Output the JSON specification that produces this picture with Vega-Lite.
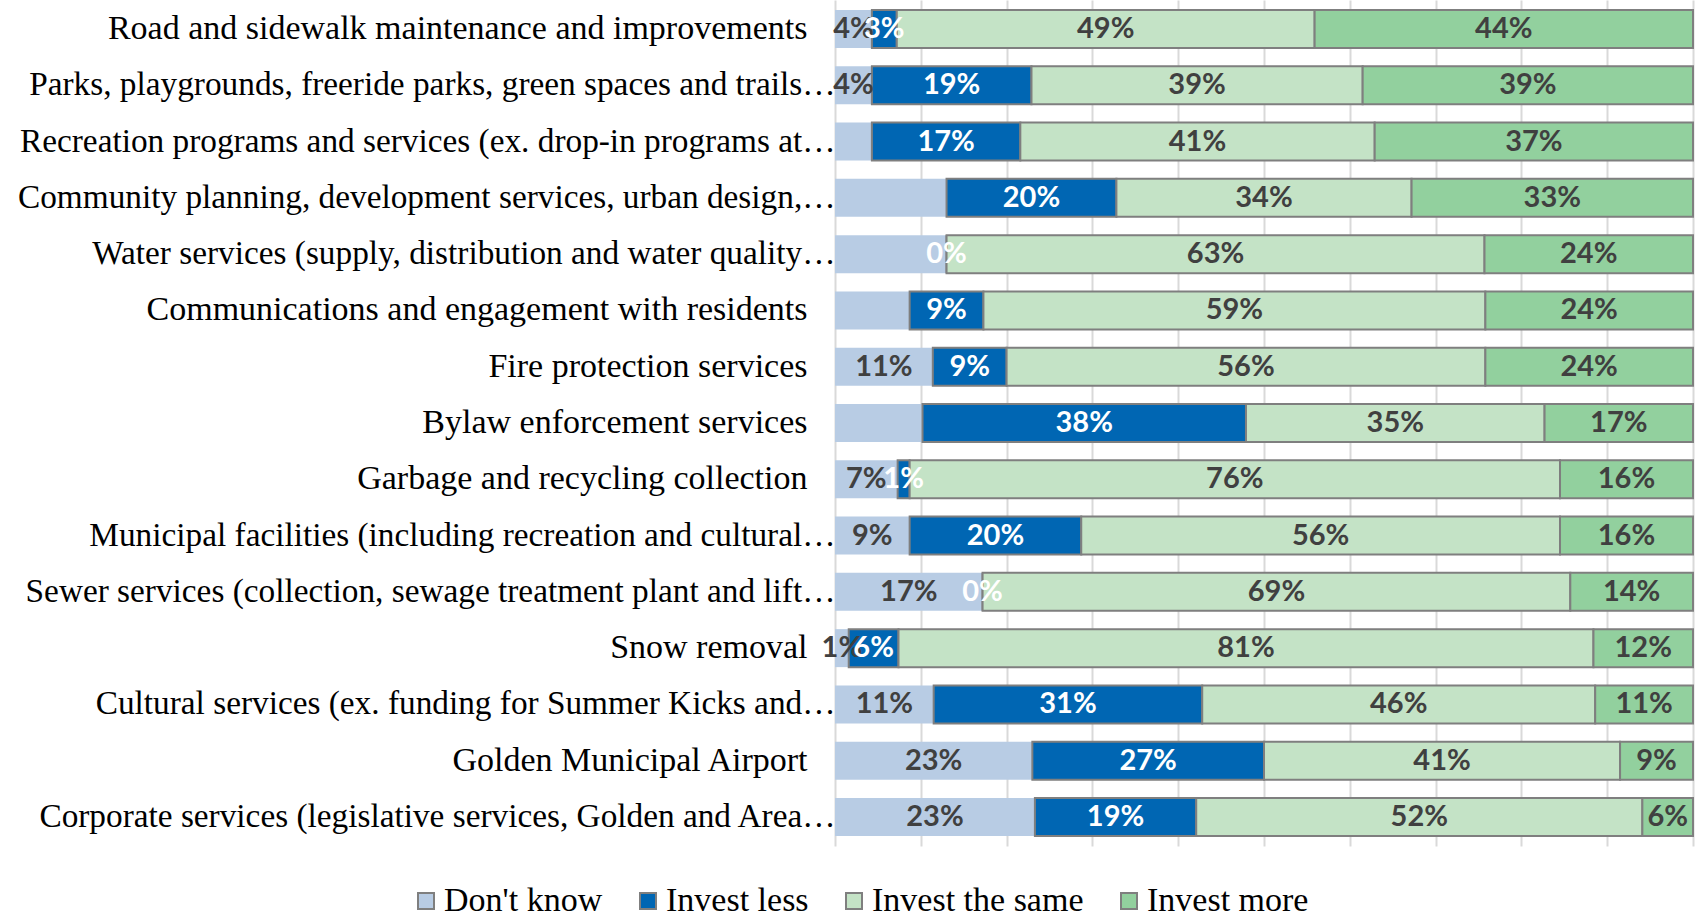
{
  "$schema": "https://vega.github.io/schema/vega-lite/v6.json",
  "width": 858,
  "height": 846,
  "autosize": {"type": "none"},
  "padding": {"left": 835, "top": 0, "right": 6, "bottom": 67},
  "background": "white",
  "config": {"view": {"stroke": null}, "font": "Liberation Serif"},
  "data": {"values": [
    {"cat": "Road and sidewalk maintenance and improvements", "resp": "Don't know", "k": 1, "v": 4.3, "label": "4%"},
    {"cat": "Road and sidewalk maintenance and improvements", "resp": "Invest less", "k": 2, "v": 2.9, "label": "3%"},
    {"cat": "Road and sidewalk maintenance and improvements", "resp": "Invest the same", "k": 3, "v": 48.7, "label": "49%"},
    {"cat": "Road and sidewalk maintenance and improvements", "resp": "Invest more", "k": 4, "v": 44.1, "label": "44%"},
    {"cat": "Parks, playgrounds, freeride parks, green spaces and trails…", "resp": "Don't know", "k": 1, "v": 4.3, "label": "4%"},
    {"cat": "Parks, playgrounds, freeride parks, green spaces and trails…", "resp": "Invest less", "k": 2, "v": 18.6, "label": "19%"},
    {"cat": "Parks, playgrounds, freeride parks, green spaces and trails…", "resp": "Invest the same", "k": 3, "v": 38.6, "label": "39%"},
    {"cat": "Parks, playgrounds, freeride parks, green spaces and trails…", "resp": "Invest more", "k": 4, "v": 38.5, "label": "39%"},
    {"cat": "Recreation programs and services (ex. drop-in programs at…", "resp": "Don't know", "k": 1, "v": 4.3, "label": ""},
    {"cat": "Recreation programs and services (ex. drop-in programs at…", "resp": "Invest less", "k": 2, "v": 17.3, "label": "17%"},
    {"cat": "Recreation programs and services (ex. drop-in programs at…", "resp": "Invest the same", "k": 3, "v": 41.3, "label": "41%"},
    {"cat": "Recreation programs and services (ex. drop-in programs at…", "resp": "Invest more", "k": 4, "v": 37.1, "label": "37%"},
    {"cat": "Community planning, development services, urban design,…", "resp": "Don't know", "k": 1, "v": 13.0, "label": ""},
    {"cat": "Community planning, development services, urban design,…", "resp": "Invest less", "k": 2, "v": 19.8, "label": "20%"},
    {"cat": "Community planning, development services, urban design,…", "resp": "Invest the same", "k": 3, "v": 34.4, "label": "34%"},
    {"cat": "Community planning, development services, urban design,…", "resp": "Invest more", "k": 4, "v": 32.8, "label": "33%"},
    {"cat": "Water services (supply, distribution and water quality…", "resp": "Don't know", "k": 1, "v": 13.0, "label": ""},
    {"cat": "Water services (supply, distribution and water quality…", "resp": "Invest less", "k": 2, "v": 0, "label": "0%"},
    {"cat": "Water services (supply, distribution and water quality…", "resp": "Invest the same", "k": 3, "v": 62.7, "label": "63%"},
    {"cat": "Water services (supply, distribution and water quality…", "resp": "Invest more", "k": 4, "v": 24.3, "label": "24%"},
    {"cat": "Communications and engagement with residents", "resp": "Don't know", "k": 1, "v": 8.7, "label": ""},
    {"cat": "Communications and engagement with residents", "resp": "Invest less", "k": 2, "v": 8.6, "label": "9%"},
    {"cat": "Communications and engagement with residents", "resp": "Invest the same", "k": 3, "v": 58.5, "label": "59%"},
    {"cat": "Communications and engagement with residents", "resp": "Invest more", "k": 4, "v": 24.2, "label": "24%"},
    {"cat": "Fire protection services", "resp": "Don't know", "k": 1, "v": 11.4, "label": "11%"},
    {"cat": "Fire protection services", "resp": "Invest less", "k": 2, "v": 8.6, "label": "9%"},
    {"cat": "Fire protection services", "resp": "Invest the same", "k": 3, "v": 55.8, "label": "56%"},
    {"cat": "Fire protection services", "resp": "Invest more", "k": 4, "v": 24.2, "label": "24%"},
    {"cat": "Bylaw enforcement services", "resp": "Don't know", "k": 1, "v": 10.2, "label": ""},
    {"cat": "Bylaw enforcement services", "resp": "Invest less", "k": 2, "v": 37.7, "label": "38%"},
    {"cat": "Bylaw enforcement services", "resp": "Invest the same", "k": 3, "v": 34.8, "label": "35%"},
    {"cat": "Bylaw enforcement services", "resp": "Invest more", "k": 4, "v": 17.3, "label": "17%"},
    {"cat": "Garbage and recycling collection", "resp": "Don't know", "k": 1, "v": 7.3, "label": "7%"},
    {"cat": "Garbage and recycling collection", "resp": "Invest less", "k": 2, "v": 1.4, "label": "1%"},
    {"cat": "Garbage and recycling collection", "resp": "Invest the same", "k": 3, "v": 75.8, "label": "76%"},
    {"cat": "Garbage and recycling collection", "resp": "Invest more", "k": 4, "v": 15.5, "label": "16%"},
    {"cat": "Municipal facilities (including recreation and cultural…", "resp": "Don't know", "k": 1, "v": 8.7, "label": "9%"},
    {"cat": "Municipal facilities (including recreation and cultural…", "resp": "Invest less", "k": 2, "v": 20.0, "label": "20%"},
    {"cat": "Municipal facilities (including recreation and cultural…", "resp": "Invest the same", "k": 3, "v": 55.8, "label": "56%"},
    {"cat": "Municipal facilities (including recreation and cultural…", "resp": "Invest more", "k": 4, "v": 15.5, "label": "16%"},
    {"cat": "Sewer services (collection, sewage treatment plant and lift…", "resp": "Don't know", "k": 1, "v": 17.2, "label": "17%"},
    {"cat": "Sewer services (collection, sewage treatment plant and lift…", "resp": "Invest less", "k": 2, "v": 0, "label": "0%"},
    {"cat": "Sewer services (collection, sewage treatment plant and lift…", "resp": "Invest the same", "k": 3, "v": 68.5, "label": "69%"},
    {"cat": "Sewer services (collection, sewage treatment plant and lift…", "resp": "Invest more", "k": 4, "v": 14.3, "label": "14%"},
    {"cat": "Snow removal", "resp": "Don't know", "k": 1, "v": 1.6, "label": "1%"},
    {"cat": "Snow removal", "resp": "Invest less", "k": 2, "v": 5.8, "label": "6%"},
    {"cat": "Snow removal", "resp": "Invest the same", "k": 3, "v": 81.0, "label": "81%"},
    {"cat": "Snow removal", "resp": "Invest more", "k": 4, "v": 11.6, "label": "12%"},
    {"cat": "Cultural services (ex. funding for Summer Kicks and…", "resp": "Don't know", "k": 1, "v": 11.5, "label": "11%"},
    {"cat": "Cultural services (ex. funding for Summer Kicks and…", "resp": "Invest less", "k": 2, "v": 31.3, "label": "31%"},
    {"cat": "Cultural services (ex. funding for Summer Kicks and…", "resp": "Invest the same", "k": 3, "v": 45.8, "label": "46%"},
    {"cat": "Cultural services (ex. funding for Summer Kicks and…", "resp": "Invest more", "k": 4, "v": 11.4, "label": "11%"},
    {"cat": "Golden Municipal Airport", "resp": "Don't know", "k": 1, "v": 23.0, "label": "23%"},
    {"cat": "Golden Municipal Airport", "resp": "Invest less", "k": 2, "v": 27.0, "label": "27%"},
    {"cat": "Golden Municipal Airport", "resp": "Invest the same", "k": 3, "v": 41.5, "label": "41%"},
    {"cat": "Golden Municipal Airport", "resp": "Invest more", "k": 4, "v": 8.5, "label": "9%"},
    {"cat": "Corporate services (legislative services, Golden and Area…", "resp": "Don't know", "k": 1, "v": 23.3, "label": "23%"},
    {"cat": "Corporate services (legislative services, Golden and Area…", "resp": "Invest less", "k": 2, "v": 18.8, "label": "19%"},
    {"cat": "Corporate services (legislative services, Golden and Area…", "resp": "Invest the same", "k": 3, "v": 52.0, "label": "52%"},
    {"cat": "Corporate services (legislative services, Golden and Area…", "resp": "Invest more", "k": 4, "v": 5.9, "label": "6%"}
  ]},
  "transform": [
    {"stack": "v", "groupby": ["cat"], "sort": [{"field": "k", "order": "ascending"}], "as": ["x0", "x1"]},
    {"calculate": "(datum.x0 + datum.x1) / 2", "as": "xm"}
  ],
  "encoding": {
    "y": {
      "field": "cat", "type": "nominal", "sort": null,
      "scale": {"paddingInner": 0.325, "paddingOuter": 0.178},
      "axis": {
        "title": null, "domain": false, "ticks": false,
        "labelFont": "Liberation Serif", "labelColor": "black",
        "labelFontSize": {"condition": {"test": "indexof(datum.value, '…') >= 0", "value": 33.3}, "value": 34},
        "labelLimit": 0,
        "labelPadding": {"condition": {"test": "indexof(datum.value, '…') >= 0", "value": 0}, "value": 28}
      }
    }
  },
  "layer": [
    {
      "mark": {"type": "bar", "strokeWidth": 2},
      "encoding": {
        "x": {
          "field": "x0", "type": "quantitative",
          "scale": {"domain": [0, 100], "nice": false},
          "axis": {"title": null, "labels": false, "ticks": false, "domain": false, "grid": true,
                   "values": [0, 10, 20, 30, 40, 50, 60, 70, 80, 90, 100],
                   "gridColor": "#D9D9D9", "gridWidth": 2}
        },
        "x2": {"field": "x1"},
        "color": {
          "field": "resp", "type": "nominal",
          "scale": {"domain": ["Don't know", "Invest less", "Invest the same", "Invest more"],
                    "range": ["#B8CCE4", "#0066B3", "#C4E3C6", "#92D09E"]},
          "legend": {
            "orient": "none", "legendX": -426, "legendY": 884, "direction": "horizontal",
            "padding": 0,
            "title": null, "labelFont": "Liberation Serif", "labelFontSize": 34, "labelColor": "black",
            "labelLimit": 0,
            "symbolType": "square", "symbolSize": 256, "columnPadding": 28, "labelOffset": 1,
            "symbolStrokeWidth": 2, "symbolOpacity": 1,
            "encode": {"symbols": {
              "enter": {"stroke": {"signal": "datum.value === \"Don't know\" ? 'transparent' : '#7F7F7F'"}},
              "update": {"stroke": {"signal": "datum.value === \"Don't know\" ? 'transparent' : '#7F7F7F'"}, "strokeWidth": {"value": 2}}
            }}
          }
        },
        "stroke": {"condition": {"test": "datum.resp === \"Don't know\"", "value": "transparent"}, "value": "#7F7F7F"}
      }
    },
    {
      "mark": {"type": "text", "font": "Lato", "fontWeight": "bold", "fontSize": 29, "baseline": "middle", "align": "center"},
      "encoding": {
        "x": {"field": "xm", "type": "quantitative"},
        "text": {"field": "label"},
        "color": {"condition": {"test": "datum.resp === 'Invest less'", "value": "white"}, "value": "#404040"}
      }
    }
  ]
}
